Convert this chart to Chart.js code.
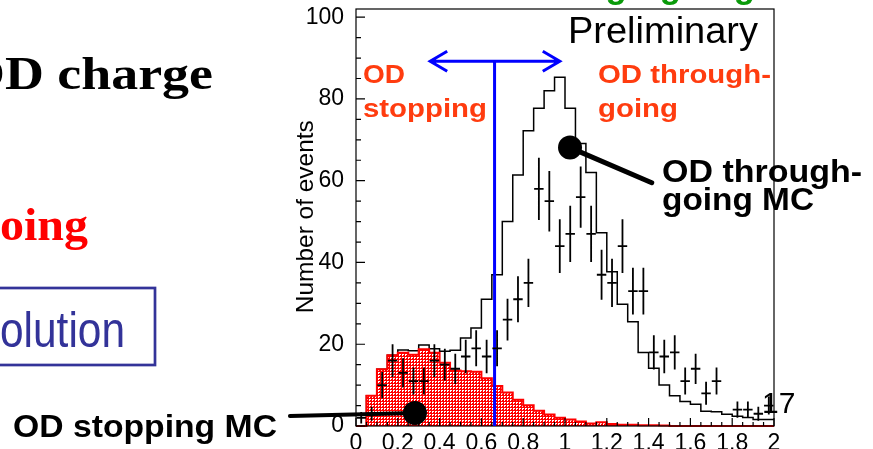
<!DOCTYPE html>
<html>
<head>
<meta charset="utf-8">
<script src="https://cdn.jsdelivr.net/npm/chart.js@4/dist/chart.umd.min.js"></script>
<style>
  html, body { margin: 0; padding: 0; width: 873px; height: 449px; overflow: hidden; background: #fff; }
  #wrap { position: absolute; left: 0; top: 0; width: 873px; height: 470px; }
</style>
</head>
<body>
<div id="wrap"><canvas id="odq" width="873" height="470"></canvas></div>
<script>
// Binning of the OD charge ratio: 40 bins from 0 to 2
const binEdges = [0.00, 0.05, 0.10, 0.15, 0.20, 0.25, 0.30, 0.35, 0.40, 0.45,
                  0.50, 0.55, 0.60, 0.65, 0.70, 0.75, 0.80, 0.85, 0.90, 0.95,
                  1.00, 1.05, 1.10, 1.15, 1.20, 1.25, 1.30, 1.35, 1.40, 1.45,
                  1.50, 1.55, 1.60, 1.65, 1.70, 1.75, 1.80, 1.85, 1.90, 1.95, 2.00];

// MC expectation, OD through-going (black outline)
const throughGoingMC = [0, 0, 7.4, 13.9, 17.3, 18.6, 18.4, 19.8, 18.9, 18.3,
                        18.5, 21.5, 24.0, 31.0, 37.0, 50.0, 61.4, 72.2, 77.7, 82.0,
                        85.3, 77.7, 69.1, 62.0, 47.3, 37.7, 29.8, 25.5, 18.0, 14.1,
                        10.0, 7.4, 6.0, 5.3, 3.6, 3.5, 2.9, 2.4, 2.1, 1.6];

// MC expectation, OD stopping (red hatched)
const stoppingMC = [0, 0, 7.4, 13.9, 17.3, 17.9, 17.4, 18.8, 17.9, 15.5,
                    13.6, 13.4, 13.3, 11.7, 9.8, 8.2, 6.4, 5.1, 3.7, 2.8,
                    2.0, 1.6, 1.1, 0.6, 0.9, 0.5, 0.3, 0.3, 0.2, 0.2,
                    0.1, 0, 0, 0, 0, 0, 0, 0, 0, 0];

// Observed events per bin and their statistical errors (empty bins are null)
const dataCounts = [2, 3, 10, 16, 13, 11, 11, 16, 15, 14,
                    17, 19, 17, 19, 26, 31, 35, 58, 55, 44,
                    47, 56, 47, 37, 35, 44, 33, 33, 18, 17,
                    18, 11, 14, 8, 11, null, 4, 4, 3, 5];
const dataErrors = [1.4, 1.7, 3.2, 4.0, 3.6, 3.3, 3.3, 4.0, 3.9, 3.7,
                    4.1, 4.4, 4.1, 4.4, 5.1, 5.6, 5.9, 7.6, 7.4, 6.6,
                    6.9, 7.5, 6.9, 6.1, 5.9, 6.6, 5.7, 5.7, 4.2, 4.1,
                    4.2, 3.3, 3.7, 2.8, 3.3, null, 2.0, 2.0, 1.7, 2.2];

const overflowCount = '17';
const xTickValues = [0, 0.2, 0.4, 0.6, 0.8, 1, 1.2, 1.4, 1.6, 1.8, 2];
const yTickValues = [0, 20, 40, 60, 80, 100];

// Selection cut and annotation anchors (data coordinates)
const cutValue = 0.663;
const arrowSpan = [0.355, 0.975];
const arrowLevel = 89.2;
const throughPointer = { dot: [1.024, 68.1], end: [1.415, 59.5] };
const stoppingPointer = { dot: [0.282, 3.2], end: [-0.316, 2.45] };

const SANS = '"Liberation Sans", Arial, Helvetica, sans-serif';
const SERIF = '"Liberation Serif", "Times New Roman", serif';

function histPoints(counts) {
  const pts = counts.map((v, i) => ({ x: binEdges[i], y: v }));
  pts.push({ x: binEdges[counts.length], y: counts[counts.length - 1] });
  return pts;
}

const dataPoints = [];
dataCounts.forEach((n, i) => {
  if (n === null) return;
  dataPoints.push({ x: (binEdges[i] + binEdges[i + 1]) / 2, y: n, err: dataErrors[i],
                    lo: binEdges[i], hi: binEdges[i + 1] });
});

function hatchPattern() {
  const c = document.createElement('canvas');
  c.width = 3; c.height = 3;
  const g = c.getContext('2d');
  g.fillStyle = '#ff0000';
  g.fillRect(0, 0, 3, 3);
  g.fillStyle = '#ffffff';
  g.fillRect(0, 0, 2, 1);
  g.fillRect(0, 1, 1, 1);
  return g.createPattern(c, 'repeat');
}

function drawText(ctx, str, x, y, font, color, width, align) {
  ctx.save();
  ctx.font = font;
  ctx.fillStyle = color;
  ctx.textBaseline = 'alphabetic';
  ctx.textAlign = align || 'left';
  const w = ctx.measureText(str).width;
  const sx = width ? width / w : 1;
  ctx.translate(x, y);
  ctx.scale(sx, 1);
  ctx.fillText(str, 0, 0);
  ctx.restore();
}

const overlay = {
  id: 'overlay',
  afterDatasetsDraw(chart) {
    const { ctx, chartArea: a, scales: { x: xs, y: ys } } = chart;
    const px = v => xs.getPixelForValue(v);
    const py = v => ys.getPixelForValue(v);
    ctx.save();

    // frame and inward ticks
    ctx.strokeStyle = '#000';
    ctx.lineWidth = 1.2;
    ctx.strokeRect(a.left, a.top, a.right - a.left, a.bottom - a.top);
    ctx.beginPath();
    for (let v = 0; v <= 100; v += 5) {
      const len = v % 20 === 0 ? 9 : 5;
      ctx.moveTo(a.left, py(v)); ctx.lineTo(a.left + len, py(v));
    }
    binEdges.forEach((e, k) => {
      const len = k % 4 === 0 ? 8 : 4;
      ctx.moveTo(px(e), a.bottom); ctx.lineTo(px(e), a.bottom - len);
    });
    ctx.stroke();

    // cut line with double arrow
    ctx.strokeStyle = '#0000ff';
    ctx.lineWidth = 3;
    ctx.beginPath();
    ctx.moveTo(px(cutValue), py(0)); ctx.lineTo(px(cutValue), py(arrowLevel));
    const xl = px(arrowSpan[0]), xr = px(arrowSpan[1]), ya = py(arrowLevel);
    ctx.moveTo(xl, ya); ctx.lineTo(xr, ya);
    ctx.moveTo(xl + 17, ya - 10); ctx.lineTo(xl, ya); ctx.lineTo(xl + 17, ya + 10);
    ctx.moveTo(xr - 17, ya - 10); ctx.lineTo(xr, ya); ctx.lineTo(xr - 17, ya + 10);
    ctx.stroke();

    // data with error bars
    ctx.strokeStyle = '#000';
    ctx.lineWidth = 1.8;
    ctx.beginPath();
    chart.data.datasets[2].data.forEach(p => {
      const cx = px(p.x), cy = py(p.y);
      ctx.moveTo(cx, py(p.y + p.err)); ctx.lineTo(cx, py(Math.max(0, p.y - p.err)));
      ctx.moveTo(px(p.lo) + 0.5, cy); ctx.lineTo(px(p.hi) - 0.5, cy);
    });
    ctx.stroke();

    // pointers to the MC histograms
    ctx.fillStyle = '#000';
    ctx.lineCap = 'round';
    [[throughPointer, 5], [stoppingPointer, 4]].forEach(([p, w]) => {
      ctx.lineWidth = w;
      ctx.beginPath();
      ctx.moveTo(px(p.dot[0]), py(p.dot[1])); ctx.lineTo(px(p.end[0]), py(p.end[1]));
      ctx.stroke();
      ctx.beginPath();
      ctx.arc(px(p.dot[0]), py(p.dot[1]), 12, 0, Math.PI * 2);
      ctx.fill();
    });
    ctx.restore();
  },
  afterDraw(chart) {
    const ctx = chart.ctx;
    const od = '#ff3c0f';
    // plot labels
    drawText(ctx, 'Preliminary', 568, 43, `36px ${SANS}`, '#000', 190);
    drawText(ctx, 'OD', 363, 83, `bold 26px ${SANS}`, od, 42);
    drawText(ctx, 'stopping', 363, 117, `bold 26px ${SANS}`, od, 124);
    drawText(ctx, 'OD through-', 598, 83, `bold 26px ${SANS}`, od, 173);
    drawText(ctx, 'going', 598, 117, `bold 26px ${SANS}`, od, 80);
    drawText(ctx, 'OD through-', 662, 182, `bold 32px ${SANS}`, '#000', 200);
    drawText(ctx, 'going MC', 662, 210, `bold 32px ${SANS}`, '#000', 152);
    drawText(ctx, 'OD stopping MC', 13, 437, `bold 31px ${SANS}`, '#000', 264);
    drawText(ctx, overflowCount, 762, 413, `30px ${SANS}`, '#000');

    // y axis title
    ctx.save();
    ctx.translate(313, 216.7);
    ctx.rotate(-Math.PI / 2);
    drawText(ctx, 'Number of events', 0, 0, `24px ${SANS}`, '#000', 193, 'center');
    ctx.restore();

    // surrounding slide text
    drawText(ctx, 'through-going', 516, -2, `bold 35px ${SANS}`, '#0a9a0a');
    drawText(ctx, 'OD charge', 213, 89, `bold 46px ${SERIF}`, '#000', 250, 'right');
    drawText(ctx, 'oing', 0, 240, `bold 46px ${SERIF}`, '#ff0000', 88);
    ctx.save();
    ctx.strokeStyle = '#333399';
    ctx.lineWidth = 2.7;
    ctx.strokeRect(-5, 288, 160, 77);
    ctx.restore();
    drawText(ctx, 'olution', 0, 347, `50px ${SANS}`, '#333399', 125);
  }
};

new Chart(document.getElementById('odq'), {
  type: 'line',
  data: {
    datasets: [
      {
        label: 'OD through-going MC',
        data: histPoints(throughGoingMC),
        stepped: 'after',
        borderColor: '#000',
        borderWidth: 1.5,
        pointRadius: 0,
        fill: false,
        clip: 4,
        order: 3
      },
      {
        label: 'OD stopping MC',
        data: histPoints(stoppingMC),
        stepped: 'after',
        borderColor: '#ff0000',
        borderWidth: 2,
        backgroundColor: hatchPattern(),
        pointRadius: 0,
        fill: 'origin',
        clip: 4,
        order: 2
      },
      {
        type: 'scatter',
        label: 'Data',
        data: dataPoints,
        pointRadius: 0,
        showLine: false,
        order: 1
      }
    ]
  },
  options: {
    responsive: false,
    animation: false,
    devicePixelRatio: 1,
    layout: { padding: { left: 0, right: 99, top: 9, bottom: 0 } },
    plugins: { legend: { display: false }, tooltip: { enabled: false } },
    scales: {
      x: {
        type: 'linear', min: 0, max: 2,
        afterFit: s => { s.height = 44; s.paddingLeft = 0; s.paddingRight = 0; },
        afterBuildTicks: s => { s.ticks = xTickValues.map(v => ({ value: v })); },
        grid: { display: false, drawTicks: false },
        border: { display: false },
        ticks: {
          color: '#000', padding: 4, maxRotation: 0, autoSkip: false,
          font: { family: SANS, size: 23 },
          callback: v => String(+v.toFixed(1))
        }
      },
      y: {
        type: 'linear', min: 0, max: 102,
        afterFit: s => { s.width = 356; s.paddingTop = 0; s.paddingBottom = 0; },
        afterBuildTicks: s => { s.ticks = yTickValues.map(v => ({ value: v })); },
        grid: { display: false, drawTicks: false },
        border: { display: false },
        ticks: {
          color: '#000', padding: 12,
          font: { family: SANS, size: 23 }
        }
      }
    }
  },
  plugins: [overlay]
});
</script>
</body>
</html>
